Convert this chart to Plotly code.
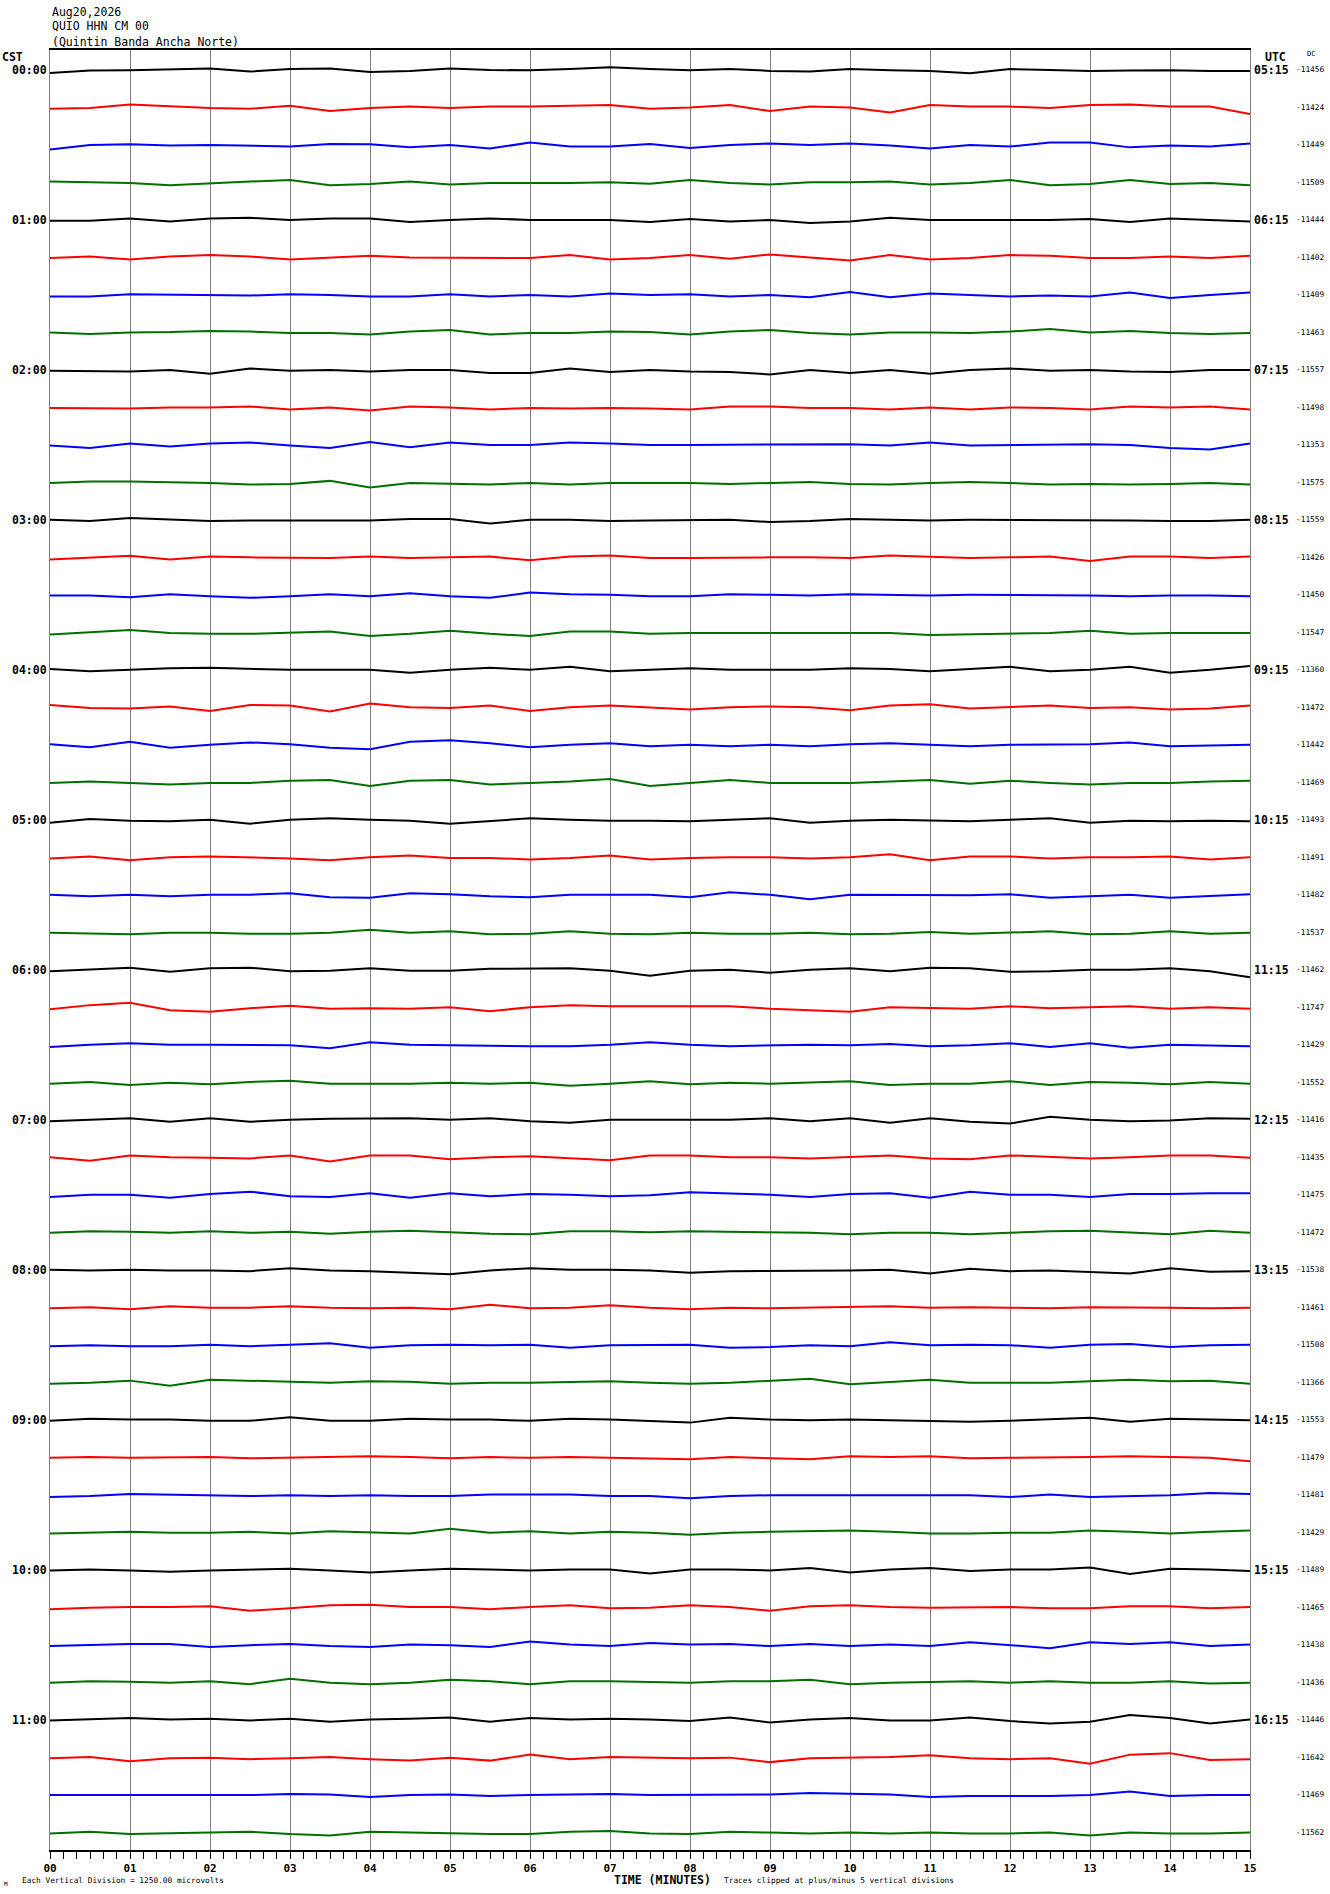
import numpy as np
import plotly.graph_objects as go

# helicorder header
station_date = "Aug20,2026"
station_code = "QUIO HHN CM 00"
station_name = "(Quintin Banda Ancha Norte)"
uv_per_division = 1250.0

minute_labels = ["00", "01", "02", "03", "04", "05", "06", "07",
                 "08", "09", "10", "11", "12", "13", "14", "15"]
cst_labels = ["00:00", "01:00", "02:00", "03:00", "04:00", "05:00",
              "06:00", "07:00", "08:00", "09:00", "10:00", "11:00"]
utc_labels = ["05:15", "06:15", "07:15", "08:15", "09:15", "10:15",
              "11:15", "12:15", "13:15", "14:15", "15:15", "16:15"]
dc_values = [-11456, -11424, -11449, -11509, -11444, -11402, -11409, -11463,
             -11557, -11498, -11353, -11575, -11559, -11426, -11450, -11547,
             -11360, -11472, -11442, -11469, -11493, -11491, -11482, -11537,
             -11462, -11747, -11429, -11552, -11416, -11435, -11475, -11472,
             -11538, -11461, -11508, -11366, -11553, -11479, -11481, -11429,
             -11489, -11465, -11438, -11436, -11446, -11642, -11469, -11562]
trace_colors = ["#000000", "#ff0000", "#0000ff", "#006f00"]

# trace deviations (microvolts, up = positive), one value every 30 s
tr01 = [-100,-20,-10,30,50,-50,30,50,-70,-30,50,0,-10,30,90,30,-10,30,-30,-50,30,-10,-30,-110,30,0,-30,-20,-10,-30,-30]
tr02 = [-40,-20,100,30,-20,-40,60,-120,-20,30,-20,30,30,60,80,-40,0,80,-120,30,0,-170,80,30,30,-20,80,100,30,30,-220]
tr03 = [-150,0,20,-20,0,-20,-50,30,20,-80,0,-120,80,-50,-50,30,-100,0,50,0,50,-20,-120,0,-50,80,80,-80,-20,-50,50]
tr04 = [30,10,-20,-90,-20,30,80,-90,-50,30,-70,-20,-20,-20,10,-40,80,-20,-70,10,10,30,-70,-20,80,-90,-50,80,-50,-20,-90]
tr05 = [-30,-30,50,-50,50,70,0,50,50,-70,0,50,0,0,0,-70,30,-50,0,-100,-50,70,0,0,0,0,30,-70,50,0,-50]
tr06 = [-20,30,-70,30,80,30,-70,0,60,0,0,0,-20,80,-70,-20,80,-40,100,0,-100,80,-70,-20,80,60,-20,-20,30,-20,60]
tr07 = [-50,-50,20,0,-20,-20,20,0,-50,-50,20,-50,0,-50,50,0,20,-50,0,-80,100,-80,50,0,-50,-20,-50,80,-100,0,80]
tr08 = [0,-50,0,10,50,30,-20,-20,-70,30,80,-70,-20,-20,30,10,-70,30,80,-20,-70,0,0,-20,30,110,0,50,-20,-50,-20]
tr09 = [-30,-30,-50,0,-130,50,-30,0,-50,0,0,-100,-100,50,-70,0,-50,-70,-150,0,-100,0,-130,0,50,-30,0,-50,-70,0,0]
tr10 = [-20,-20,-40,0,0,30,-70,0,-100,30,0,-70,-20,-40,-20,-40,-70,30,30,-20,-20,-70,0,-70,0,-20,-70,30,0,30,-70]
tr11 = [-20,-100,50,-50,50,80,-20,-100,100,-80,80,0,0,80,50,0,0,0,20,0,20,-20,80,-20,0,0,20,0,-100,-150,50]
tr12 = [-20,30,30,10,-20,-70,-50,50,-170,-20,-50,-70,-20,-70,-20,-20,-20,-50,-20,10,-50,-70,-20,10,-20,-70,-50,-70,-50,-20,-70]
tr13 = [0,-40,60,0,-40,-20,-20,0,-20,30,30,-120,0,0,-40,-20,-20,0,-70,-40,30,0,-20,0,0,0,0,-20,-40,-40,0]
tr14 = [-70,-20,50,-70,30,0,0,-20,30,-20,0,30,-100,30,60,-20,-20,0,0,0,-20,60,30,-20,0,30,-120,30,30,-20,30]
tr15 = [-20,-20,-80,20,-50,-100,-50,20,-50,50,-50,-100,80,20,0,-50,-50,20,0,-20,20,0,-20,0,0,0,-20,-50,-20,-20,-50]
tr16 = [-70,10,80,-20,-50,-50,-20,30,-120,-50,50,-50,-120,30,30,-50,-20,-20,-40,-40,-40,-20,-90,-70,-50,-20,50,-50,-20,-20,-20]
tr17 = [30,-50,0,50,70,30,0,0,0,-100,0,70,0,100,-50,0,50,0,0,0,50,30,-50,30,100,-50,0,100,-100,0,130]
tr18 = [80,-20,-40,30,-120,80,60,-140,130,0,-20,60,-120,0,60,0,-70,0,30,0,-100,60,100,-40,0,60,-20,0,-70,-40,60]
tr19 = [20,-80,100,-100,0,80,20,-100,-150,100,150,50,-80,0,50,-50,0,-50,0,-50,20,50,0,-50,0,0,20,80,-50,-20,0]
tr20 = [-20,30,-20,-70,-20,-20,50,80,-120,50,80,-70,-20,30,110,-120,-20,80,-20,-20,-20,30,80,-50,50,-20,-70,-20,-20,30,50]
tr21 = [-100,30,-30,-50,0,-130,0,50,0,-30,-130,-30,50,0,-30,-30,-50,0,50,-100,-30,0,-30,-50,0,50,-100,-30,-50,-30,-50]
tr22 = [-40,30,-100,0,30,0,-40,-100,0,60,-20,-20,-70,-20,60,-70,-20,0,0,-40,0,100,-100,30,30,-40,0,0,30,-70,0]
tr23 = [0,-50,0,-50,0,0,50,-80,-100,50,20,-50,-80,0,0,0,-80,80,0,-150,0,0,0,-20,20,-100,-50,0,-100,-50,20]
tr24 = [-20,-50,-70,-20,-20,-50,-50,-20,80,-20,30,-70,-50,30,-50,-70,-20,-50,-50,-20,-70,-50,10,-50,-20,30,-70,-50,30,-50,-20]
tr25 = [-50,0,70,-70,50,70,-50,-30,50,-30,-30,30,30,50,-30,-200,-30,0,-100,0,50,-50,70,50,-70,-50,0,0,50,-50,-250]
tr26 = [-70,70,150,-100,-150,-30,50,-50,-30,-50,0,-130,0,70,30,30,30,30,-50,-100,-150,0,-30,-50,30,-30,0,30,-50,0,-50]
tr27 = [-80,0,50,0,0,0,-20,-120,80,0,-20,-20,-50,-50,0,80,0,-50,-20,0,-20,20,-50,-20,50,-80,50,-100,0,-20,-50]
tr28 = [-50,10,-90,-20,-70,10,50,-50,-50,-50,-20,-50,-20,-120,-50,30,-70,-20,-50,-20,30,-90,-50,-50,30,-90,10,-20,-70,10,-50]
tr29 = [-50,0,50,-70,50,-70,0,30,30,50,0,50,-50,-100,0,0,0,0,50,-50,50,-100,50,-70,-130,100,0,-50,-30,50,30]
tr30 = [0,-120,60,0,-20,-40,60,-140,60,60,-70,0,30,-40,-100,60,60,0,0,-40,0,60,-40,-70,60,0,-40,0,60,60,-20]
tr31 = [-80,0,0,-100,20,100,-50,-80,50,-100,50,-50,20,0,-50,-20,80,50,0,-80,20,50,-100,100,0,0,-80,20,20,50,50]
tr32 = [-20,30,10,-20,30,-20,10,-50,10,50,0,-50,-70,30,30,0,30,10,0,-20,-70,-20,-20,-70,-20,30,50,-20,-70,50,-20]
tr33 = [0,-30,0,-30,-30,-50,50,-30,-50,-100,-150,-30,50,0,0,-30,-100,-50,-50,-30,-30,0,-130,30,-50,-30,-70,-130,50,-70,-50]
tr34 = [-40,0,-70,30,-20,-20,30,-20,-40,-20,-70,80,-40,-20,60,-20,-70,-20,-40,-20,0,30,-20,0,-20,-40,0,0,-20,-40,-20]
tr35 = [-50,-20,-50,-50,0,-50,0,50,-100,-20,0,-20,0,-100,-20,0,0,-100,-80,-20,-50,80,-20,0,-20,-100,0,20,-80,-20,0]
tr36 = [-50,-20,50,-120,80,50,10,-20,30,10,-50,-20,-20,10,30,-20,-50,-20,50,110,-70,10,80,-20,-20,-20,30,80,30,50,-50]
tr37 = [-40,30,0,0,-40,-40,80,-40,-40,30,0,0,-40,30,0,-40,-100,60,0,-20,0,-20,-40,-70,-40,0,60,-70,30,0,-20]
tr38 = [-20,0,-20,0,0,-40,-20,0,30,0,-40,0,-20,0,-20,-40,-70,0,-40,-70,30,0,30,-40,-20,-20,0,30,0,-20,-140]
tr39 = [-80,-50,20,0,-20,-50,-20,-50,-20,-50,-50,0,0,0,-50,-50,-120,-50,-20,-20,-20,0,-20,-20,-80,0,-80,-50,-20,50,20]
tr40 = [-50,-20,10,-20,-20,10,-50,30,-20,-50,110,-20,30,-50,10,-20,-90,-20,10,30,50,10,-50,-50,-20,-20,50,10,-50,10,50]
tr41 = [-30,0,-30,-70,-30,0,30,-30,-100,-30,30,0,-30,0,0,-130,0,0,-30,50,-100,0,50,-50,0,0,70,-150,30,0,-50]
tr42 = [-70,-20,0,0,30,-120,-40,60,80,0,0,-70,0,60,-40,-20,60,0,-120,30,60,0,-20,-20,0,-40,-40,30,30,-40,0]
tr43 = [-50,-20,20,20,-80,-20,20,-50,-80,0,-20,-80,100,0,-50,50,0,20,-50,20,-50,0,-50,80,-20,-120,80,20,80,-50,0]
tr44 = [-20,30,10,-20,30,-70,110,-20,-70,-20,80,30,-70,30,30,10,-20,30,30,80,-70,-20,10,30,-20,30,-20,-20,30,-50,-20]
tr45 = [-30,0,50,0,30,-30,30,-70,0,30,70,-70,50,0,30,0,-50,70,-100,0,50,-30,-30,70,-50,-130,-70,150,50,-130,0]
tr46 = [-40,0,-140,-40,-20,-70,-40,0,-70,-120,-20,-120,80,-70,0,-20,-40,-20,-170,-40,-20,0,60,-40,-70,-40,-220,80,130,-100,-70]
tr47 = [-20,-20,0,0,-20,-20,20,0,-80,-20,0,-50,-20,0,20,-20,-20,0,0,50,20,0,-80,-50,-50,-50,-20,100,-50,-20,-20]
tr48 = [-50,10,-70,-50,-20,10,-70,-120,10,-20,-50,-70,-70,10,30,-50,-70,10,-20,-50,-20,-50,-20,-50,-50,-20,-120,-20,-50,-50,-20]

traces = [tr01, tr02, tr03, tr04, tr05, tr06, tr07, tr08, tr09, tr10, tr11, tr12,
          tr13, tr14, tr15, tr16, tr17, tr18, tr19, tr20, tr21, tr22, tr23, tr24,
          tr25, tr26, tr27, tr28, tr29, tr30, tr31, tr32, tr33, tr34, tr35, tr36,
          tr37, tr38, tr39, tr40, tr41, tr42, tr43, tr44, tr45, tr46, tr47, tr48]

W, H = 1330, 1894
L, R, T, B = 50, 1250, 50, 1850   # plot area in pixels
MONO = "DejaVu Sans Mono"


def px(xp):
    return (xp - L) / (R - L)


def py(yp):
    return (B - yp) / (B - T)


fig = go.Figure()
for i, vals in enumerate(traces):
    t = np.linspace(0, 15, len(vals))
    y = i - np.array(vals) / uv_per_division
    fig.add_trace(go.Scatter(x=t, y=y, mode="lines", hoverinfo="skip",
                             line=dict(color=trace_colors[i % 4], width=2)))

ann = []
for txt, yp in [(station_date, 12), (station_code, 26), (station_name, 42)]:
    ann.append(dict(text=txt, x=0, y=py(yp), xanchor="left", yanchor="middle",
                    font=dict(size=11.5)))
ann.append(dict(text="CST", x=px(0), y=py(57), xanchor="left", yanchor="middle",
                font=dict(size=11.5, weight="bold")))
ann.append(dict(text="UTC", x=px(1275), y=py(57), xanchor="center", yanchor="middle",
                font=dict(size=11.5, weight="bold")))
ann.append(dict(text="DC", x=px(1311), y=py(54), xanchor="center", yanchor="middle",
                font=dict(size=7)))
for k in range(len(cst_labels)):
    ann.append(dict(text=cst_labels[k], x=px(49), y=4 * k, yref="y", xanchor="right",
                    yanchor="middle", font=dict(size=11.5, weight="bold")))
    ann.append(dict(text=utc_labels[k], x=px(1252), y=4 * k, yref="y", xanchor="left",
                    yanchor="middle", font=dict(size=11.5, weight="bold")))
for i, dc in enumerate(dc_values):
    ann.append(dict(text=str(dc), x=px(1326), y=i, yref="y", xanchor="right",
                    yanchor="middle", font=dict(size=7.8)))
ann.append(dict(text="Each Vertical Division = %.2f microvolts" % uv_per_division,
                x=px(20), y=py(1880), xanchor="left", yanchor="middle", font=dict(size=7.8)))
ann.append(dict(text="TIME (MINUTES)", x=px(662), y=py(1880), xanchor="center",
                yanchor="middle", font=dict(size=11.5, weight="bold")))
ann.append(dict(text="Traces clipped at plus/minus 5 vertical divisions",
                x=px(722), y=py(1880), xanchor="left", yanchor="middle", font=dict(size=7.8)))
ann.append(dict(text="M", x=px(2), y=py(1883), xanchor="left", yanchor="middle",
                font=dict(size=6)))
for a in ann:
    a.setdefault("xref", "paper")
    a.setdefault("yref", "paper")
    a["showarrow"] = False

fig.update_layout(
    width=W, height=H,
    margin=dict(l=L, r=W - R, t=T, b=H - B, pad=0),
    paper_bgcolor="white", plot_bgcolor="white",
    showlegend=False,
    font=dict(family=MONO, color="black"),
    annotations=ann,
    xaxis=dict(range=[0, 15], tickmode="array",
               tickvals=list(range(len(minute_labels))), ticktext=minute_labels,
               ticks="outside", ticklen=7, tickcolor="black", tickwidth=1,
               showgrid=True, gridcolor="#808080", gridwidth=1,
               showline=True, linecolor="black", linewidth=1.5, mirror=True,
               zeroline=False,
               tickfont=dict(family=MONO, size=11, weight="bold"),
               minor=dict(dtick=1 / 6, tick0=0, ticks="outside", ticklen=7,
                          tickcolor="black", showgrid=False)),
    yaxis=dict(range=[47 + 18 / 37.5, -20 / 37.5], showticklabels=False,
               ticks="", showgrid=False, zeroline=False,
               showline=True, linecolor="#808080", linewidth=1, mirror=True),
)

# no page margin so the figure sits at the top-left corner like the original image
fig.write_html("out.html", config={"displayModeBar": False},
               post_script="document.body.style.margin='0';document.body.style.overflow='hidden';")
